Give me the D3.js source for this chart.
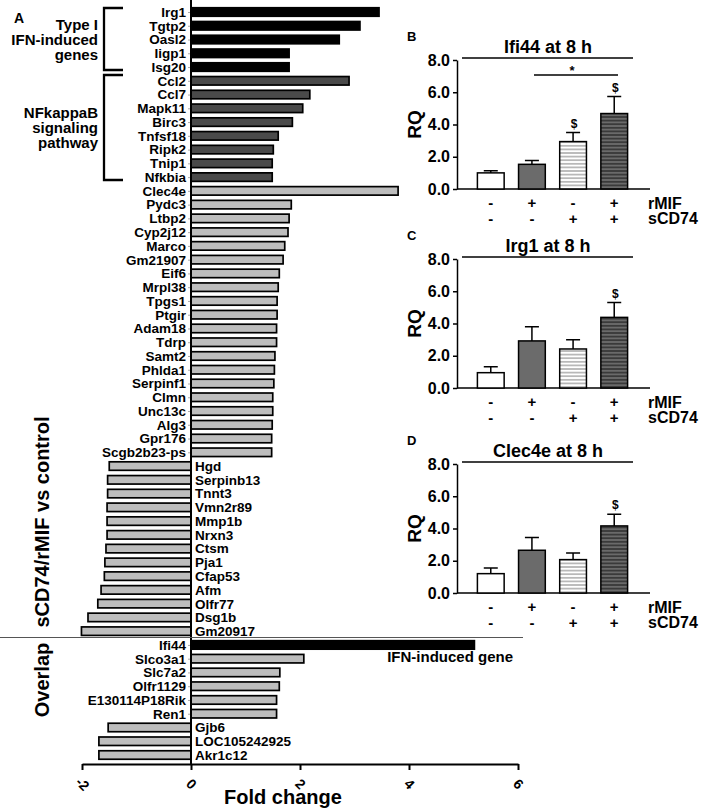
<!DOCTYPE html>
<html lang="en">
<head>
<meta charset="UTF-8">
<title>sCD74/rMIF vs control</title>
<script src="https://d3js.org/d3.v7.min.js"></script>
<style>
  body { margin: 0; background: #fff; }
  svg { font-family: Arial, "Liberation Sans", sans-serif; font-weight: bold; }
</style>
</head>
<body>
<svg width="709" height="808"></svg>
<script>
// ---- panel A data ----
const mainGenes = ["Irg1","Tgtp2","Oasl2","Iigp1","Isg20",
  "Ccl2","Ccl7","Mapk11","Birc3","Tnfsf18","Ripk2","Tnip1","Nfkbia",
  "Clec4e","Pydc3","Ltbp2","Cyp2j12","Marco","Gm21907","Eif6","Mrpl38","Tpgs1","Ptgir",
  "Adam18","Tdrp","Samt2","Phlda1","Serpinf1","Clmn","Unc13c","Alg3","Gpr176","Scgb2b23-ps",
  "Hgd","Serpinb13","Tnnt3","Vmn2r89","Mmp1b","Nrxn3","Ctsm","Pja1","Cfap53","Afm","Olfr77","Dsg1b","Gm20917"];
const mainFold = [3.45,3.1,2.72,1.8,1.8,
  2.9,2.18,2.05,1.86,1.6,1.51,1.49,1.49,
  3.8,1.84,1.8,1.78,1.72,1.69,1.62,1.6,1.58,1.58,
  1.57,1.57,1.54,1.53,1.52,1.5,1.5,1.49,1.48,1.48,
  -1.5,-1.53,-1.53,-1.54,-1.54,-1.54,-1.56,-1.58,-1.59,-1.65,-1.71,-1.89,-2.01];
const mainGroup = ["I","I","I","I","I",
  "N","N","N","N","N","N","N","N",
  "O","O","O","O","O","O","O","O","O","O",
  "O","O","O","O","O","O","O","O","O","O",
  "O","O","O","O","O","O","O","O","O","O","O","O","O"];

const overlapGenes = ["Ifi44","Slco3a1","Slc7a2","Olfr1129","E130114P18Rik","Ren1","Gjb6","LOC105242925","Akr1c12"];
const overlapFold = [5.2,2.07,1.63,1.62,1.57,1.57,-1.52,-1.69,-1.69];
const overlapGroup = ["I","O","O","O","O","O","O","O","O"];

const foldTicks = [-2,0,2,4,6];

// ---- panels B-D data ----
const conditions = ["ctrl","rMIF","sCD74","rMIF+sCD74"];
const rMIFSign = ["-","+","-","+"];
const sCD74Sign = ["-","-","+","+"];
const panelLetters = ["B","C","D"];
const panelTitles = ["Ifi44 at 8 h","Irg1 at 8 h","Clec4e at 8 h"];
const ifi44RQ = [1.0,1.53,2.94,4.68];
const ifi44Err = [0.13,0.23,0.56,1.05];
const ifi44Sig = ["","","$","$"];
const irg1RQ = [0.95,2.92,2.42,4.38];
const irg1Err = [0.37,0.88,0.58,0.92];
const irg1Sig = ["","","","$"];
const clec4eRQ = [1.2,2.65,2.07,4.16];
const clec4eErr = [0.35,0.79,0.41,0.73];
const clec4eSig = ["","","","$"];
const rqTicks = [0,2,4,6,8];

const svg = d3.select("svg");

// stripe patterns for bars 3 and 4
const defs = svg.append("defs");
function stripes(id, bg, fg) {
  const p = defs.append("pattern").attr("id", id)
    .attr("patternUnits", "userSpaceOnUse").attr("width", 6).attr("height", 3.6);
  p.append("rect").attr("width", 6).attr("height", 3.6).attr("fill", bg);
  p.append("line").attr("x1", 0).attr("x2", 6).attr("y1", 1.8).attr("y2", 1.8)
    .attr("stroke", fg).attr("stroke-width", 1.1);
}
stripes("stripeLight", "#fff", "#8a8a8a");
stripes("stripeDark", "#6a6a6a", "#1a1a1a");

// ================= panel A =================
const rows = mainGenes.map((g, i) => ({ gene: g, fold: mainFold[i], group: mainGroup[i] }))
  .concat(overlapGenes.map((g, i) => ({ gene: g, fold: overlapFold[i], group: overlapGroup[i] })));
rows.forEach((d, i) => d.idx = i);

const x = d3.scaleLinear().domain([-2, 6]).range([82, 518]);
const y = d3.scalePoint().domain(d3.range(rows.length)).range([12, 755]);
const fill = d3.scaleOrdinal().domain(["I","N","O"]).range(["#000","#4a4a4a","#bdbdbd"]);
const barH = 8.5;
const axisY = 764;

// small category ticks on the zero line
svg.append("g")
  .attr("transform", `translate(${x(0)},0)`)
  .call(d3.axisLeft(y).tickSize(3).tickFormat(""))
  .call(g => g.select(".domain").remove())
  .call(g => g.selectAll("line").attr("stroke", "#aaa"));

svg.selectAll(".gbar").data(rows).enter().append("rect")
  .attr("class", "gbar")
  .attr("x", d => x(Math.min(0, d.fold)))
  .attr("y", d => y(d.idx) - barH / 2)
  .attr("width", d => Math.abs(x(d.fold) - x(0)))
  .attr("height", barH)
  .attr("fill", d => fill(d.group))
  .attr("stroke", "#000")
  .attr("stroke-width", 1.7);

svg.selectAll(".glab").data(rows).enter().append("text")
  .attr("class", "glab")
  .attr("x", d => d.fold >= 0 ? x(0) - 5 : x(0) + 4)
  .attr("y", d => y(d.idx))
  .attr("dy", "0.36em")
  .attr("text-anchor", d => d.fold >= 0 ? "end" : "start")
  .attr("font-size", 13.5)
  .text(d => d.gene);

// zero line
svg.append("line")
  .attr("x1", x(0)).attr("x2", x(0)).attr("y1", 0).attr("y2", axisY)
  .attr("stroke", "#000").attr("stroke-width", 2);

// fold change axis
const xAxis = svg.append("g")
  .attr("transform", `translate(0,${axisY})`)
  .call(d3.axisBottom(x).tickValues(foldTicks).tickSize(6).tickSizeOuter(0).tickFormat(d => String(d)));
xAxis.select(".domain").attr("stroke-width", 2);
xAxis.selectAll(".tick line").attr("stroke-width", 2);
xAxis.selectAll("text")
  .attr("y", 0).attr("dy", "0.35em")
  .attr("transform", "translate(0,20) rotate(45)")
  .attr("text-anchor", "middle")
  .attr("font-size", 14)
  .attr("font-weight", "bold")
  .attr("font-family", "Arial, 'Liberation Sans', sans-serif")
  .attr("fill", "#000");

svg.append("text").attr("x", 283).attr("y", 804)
  .attr("text-anchor", "middle").attr("font-size", 20).text("Fold change");

// divider between the two gene sets
svg.append("line")
  .attr("x1", 0).attr("x2", 523).attr("y1", 637.5).attr("y2", 637.5)
  .attr("stroke", "#555").attr("stroke-width", 1);

svg.append("text").attr("x", 513).attr("y", 662)
  .attr("text-anchor", "end").attr("font-size", 15).text("IFN-induced gene");

// rotated section titles
svg.append("text")
  .attr("transform", "translate(49,522) rotate(-90)")
  .attr("text-anchor", "middle").attr("font-size", 20).text("sCD74/rMIF vs control");
svg.append("text")
  .attr("transform", "translate(49,680) rotate(-90)")
  .attr("text-anchor", "middle").attr("font-size", 20).text("Overlap");

svg.append("text").attr("x", 14).attr("y", 23).attr("font-size", 14).text("A");

// brackets
function bracket(y0, y1) {
  svg.append("path")
    .attr("d", `M123,${y0}H104V${y1}H123`)
    .attr("fill", "none").attr("stroke", "#000").attr("stroke-width", 2.3);
}
bracket(8, 70);
bracket(75, 180);

function block(lines, yTop) {
  lines.forEach((t, i) => {
    svg.append("text").attr("x", 98).attr("y", yTop + i * 15)
      .attr("text-anchor", "end").attr("font-size", 15).text(t);
  });
}
block(["Type I", "IFN-induced", "genes"], 30);
block(["NFkappaB", "signaling", "pathway"], 118);

// ================= panels B-D =================
const panels = [
  { rq: ifi44RQ, err: ifi44Err, sig: ifi44Sig, top: 60, star: true },
  { rq: irg1RQ, err: irg1Err, sig: irg1Sig, top: 259, star: false },
  { rq: clec4eRQ, err: clec4eErr, sig: clec4eSig, top: 464, star: false }
];
const barFill = ["#fff", "#6b6b6b", "url(#stripeLight)", "url(#stripeDark)"];
const px = d3.scaleBand().domain(conditions).range([463, 642]).padding(0.35);
const axisX = 457;
const plotH = 129;

panels.forEach((p, k) => {
  const py = d3.scaleLinear().domain([0, 8]).range([p.top + plotH, p.top]);
  const g = svg.append("g");
  const base = p.top + plotH;

  g.append("text").attr("x", 407).attr("y", p.top - 19).attr("font-size", 13).text(panelLetters[k]);
  g.append("text").attr("x", 548).attr("y", p.top - 7)
    .attr("text-anchor", "middle").attr("font-size", 18).text(panelTitles[k]);
  g.append("line").attr("x1", 462).attr("x2", 633)
    .attr("y1", p.top - 2).attr("y2", p.top - 2).attr("stroke", "#000").attr("stroke-width", 1.3);

  const yAx = g.append("g").attr("transform", `translate(${axisX},0)`)
    .call(d3.axisLeft(py).tickValues(rqTicks).tickSize(4).tickSizeOuter(0).tickFormat(d3.format(".1f")));
  yAx.select(".domain").attr("stroke-width", 1.5);
  yAx.selectAll("line").attr("stroke-width", 1.5);
  yAx.selectAll("text").attr("font-size", 16).attr("font-weight", "bold")
    .attr("font-family", "Arial, 'Liberation Sans', sans-serif").attr("fill", "#000");

  g.append("line").attr("x1", axisX).attr("x2", 650).attr("y1", base).attr("y2", base)
    .attr("stroke", "#000").attr("stroke-width", 1.5);

  g.append("text")
    .attr("transform", `translate(421,${p.top + plotH / 2}) rotate(-90)`)
    .attr("text-anchor", "middle").attr("font-size", 19).text("RQ");

  const data = conditions.map((c, i) => ({ c, v: p.rq[i], e: p.err[i], s: p.sig[i], i }));

  // error bars (upper only)
  g.selectAll(".eb").data(data).enter().append("path")
    .attr("d", d => {
      const cx = px(d.c) + px.bandwidth() / 2;
      return `M${cx},${py(d.v)}V${py(d.v + d.e)}M${cx - 7},${py(d.v + d.e)}H${cx + 7}`;
    })
    .attr("fill", "none").attr("stroke", "#000").attr("stroke-width", 1.5);

  g.selectAll(".pb").data(data).enter().append("rect")
    .attr("x", d => px(d.c))
    .attr("y", d => py(d.v))
    .attr("width", px.bandwidth())
    .attr("height", d => base - py(d.v))
    .attr("fill", d => barFill[d.i])
    .attr("stroke", "#000").attr("stroke-width", 1.5);

  g.selectAll(".sig").data(data.filter(d => d.s)).enter().append("text")
    .attr("x", d => px(d.c) + px.bandwidth() / 2 + 1)
    .attr("y", d => py(d.v + d.e) - 5)
    .attr("text-anchor", "middle").attr("font-size", 12).text(d => d.s);

  if (p.star) {
    g.append("line").attr("x1", 534).attr("x2", 618).attr("y1", 75).attr("y2", 75)
      .attr("stroke", "#000").attr("stroke-width", 1.3);
    g.append("text").attr("x", 572).attr("y", 75).attr("text-anchor", "middle")
      .attr("font-size", 13).text("*");
  }

  // treatment rows
  [rMIFSign, sCD74Sign].forEach((signs, r) => {
    g.selectAll(null).data(conditions).enter().append("text")
      .attr("x", (c, i) => px(c) + px.bandwidth() / 2)
      .attr("y", base + 14 + r * 15.5)
      .attr("dy", "0.35em")
      .attr("text-anchor", "middle").attr("font-size", 15)
      .text((c, i) => signs[i]);
  });
  g.append("text").attr("x", 648).attr("y", base + 14).attr("dy", "0.35em")
    .attr("font-size", 16).text("rMIF");
  g.append("text").attr("x", 648).attr("y", base + 29.5).attr("dy", "0.35em")
    .attr("font-size", 16).text("sCD74");
});
</script>
</body>
</html>
